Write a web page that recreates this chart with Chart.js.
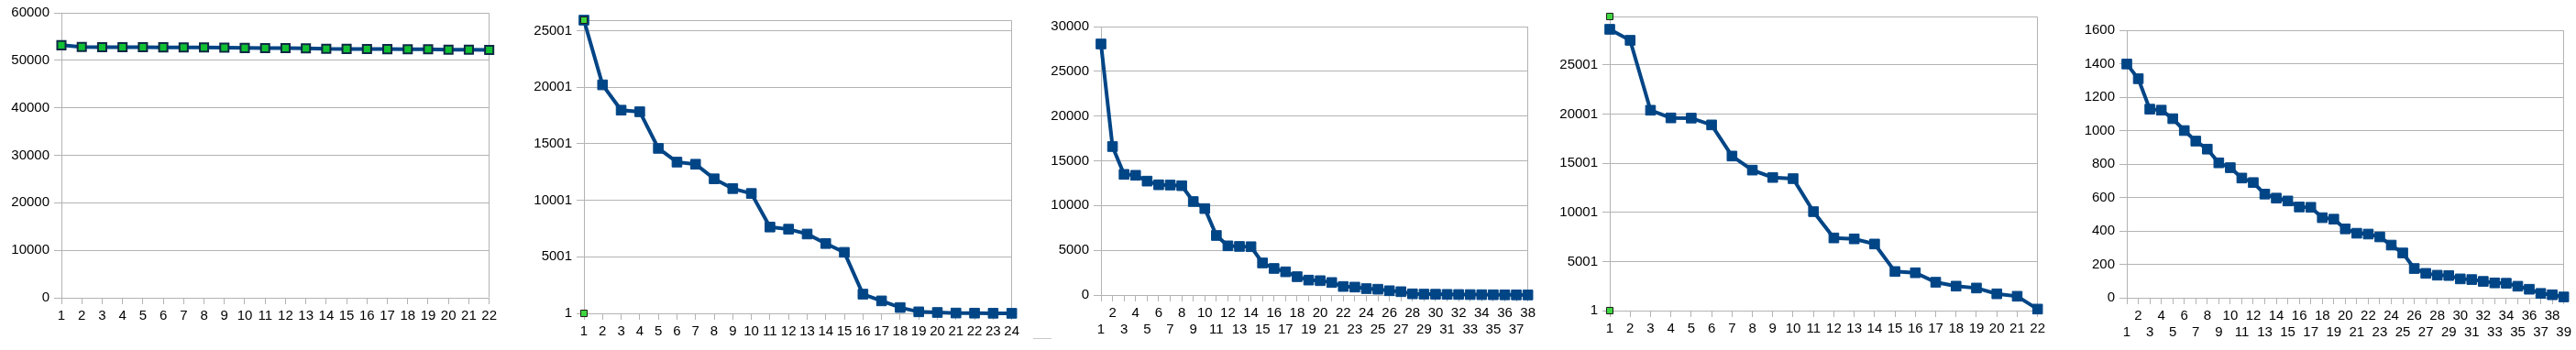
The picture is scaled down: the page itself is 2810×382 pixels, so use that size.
<!DOCTYPE html>
<html>
<head>
<meta charset="utf-8">
<script src="https://cdn.jsdelivr.net/npm/chart.js@4/dist/chart.umd.min.js"></script>
<style>
  html, body { margin: 0; padding: 0; background: #ffffff; }
  body { width: 2810px; height: 382px; position: relative; overflow: hidden; }
  canvas { position: absolute; top: 0; }
  .stray { position: absolute; left: 1127px; top: 369px; width: 20px; height: 1px; background: #c8c8c8; }
</style>
</head>
<body>
<canvas id="c1"></canvas>
<canvas id="c2"></canvas>
<canvas id="c3"></canvas>
<canvas id="c4"></canvas>
<canvas id="c5"></canvas>
<div class="stray"></div>
<script>
// ---------------- DATA ----------------
const xLabels1 = ['1','2','3','4','5','6','7','8','9','10','11','12','13','14','15','16','17','18','19','20','21','22'];
const c1Values = [53180, 52800, 52780, 52760, 52750, 52740, 52720, 52700, 52680, 52600, 52580, 52560, 52540, 52420, 52400, 52380, 52360, 52340, 52320, 52250, 52220, 52200];
const yTicks1 = [0, 10000, 20000, 30000, 40000, 50000, 60000];

const xLabels2 = ['1','2','3','4','5','6','7','8','9','10','11','12','13','14','15','16','17','18','19','20','21','22','23','24'];
const c2Values = [25945, 20220, 17980, 17840, 14600, 13385, 13195, 11905, 11040, 10610, 7640, 7450, 7020, 6180, 5400, 1700, 1105, 515, 135, 80, 30, 20, 10, 5];
const c2RangeMarks = [25945, 1];
const yTicks2 = [1, 5001, 10001, 15001, 20001, 25001];

const xLabels3 = ['1','2','3','4','5','6','7','8','9','10','11','12','13','14','15','16','17','18','19','20','21','22','23','24','25','26','27','28','29','30','31','32','33','34','35','36','37','38'];
const c3Values = [28055, 16590, 13480, 13380, 12730, 12320, 12290, 12220, 10445, 9660, 6655, 5495, 5430, 5400, 3585, 2970, 2595, 2050, 1670, 1605, 1400, 955, 885, 715, 650, 480, 375, 135, 100, 90, 70, 60, 50, 40, 30, 20, 15, 10];
const yTicks3 = [0, 5000, 10000, 15000, 20000, 25000, 30000];

const xLabels4 = ['1','2','3','4','5','6','7','8','9','10','11','12','13','14','15','16','17','18','19','20','21','22'];
const c4Values = [28640, 27520, 20400, 19620, 19600, 18905, 15735, 14305, 13555, 13435, 10075, 7400, 7305, 6780, 3980, 3855, 2890, 2490, 2300, 1710, 1460, 155];
const c4RangeMarks = [29945, 1];
const yTicks4 = [1, 5001, 10001, 15001, 20001, 25001];

const xLabels5 = ['1','2','3','4','5','6','7','8','9','10','11','12','13','14','15','16','17','18','19','20','21','22','23','24','25','26','27','28','29','30','31','32','33','34','35','36','37','38','39'];
const c5Values = [1398, 1310, 1128, 1122, 1071, 1000, 937, 889, 807, 778, 716, 689, 620, 596, 579, 543, 541, 479, 470, 412, 386, 381, 364, 315, 268, 175, 146, 135, 133, 113, 109, 98, 89, 87, 69, 51, 26, 18, 5];
const yTicks5 = [0, 200, 400, 600, 800, 1000, 1200, 1400, 1600];

// ---------------- LAYOUT / STYLE ----------------
const H = 382, YW = 70, PADR = 12;
const GRID = '#b3b3b3';
const BLUE = '#004586';
const FONT = { family: "'Liberation Sans', Arial, sans-serif", size: 15, lineHeight: 1.2 };

const frameBorder = {
  id: 'frameBorder',
  beforeDatasetsDraw(chart) {
    const a = chart.chartArea, ctx = chart.ctx;
    ctx.save();
    ctx.strokeStyle = GRID;
    ctx.lineWidth = 1;
    const l = Math.round(a.left) + 0.5, r = Math.round(a.right) - 0.5;
    const t = Math.round(a.top) + 0.5, b = Math.round(a.bottom) - 0.5;
    ctx.beginPath();
    ctx.moveTo(l, t); ctx.lineTo(r, t); ctx.lineTo(r, b);
    ctx.stroke();
    ctx.restore();
  }
};

function makeChart(id, geo, labels, values, yTicks, yMin, yMax, opts) {
  const cv = document.getElementById(id);
  const W = (geo.right - geo.left) + YW + PADR;
  cv.width = W; cv.height = H;
  cv.style.left = (geo.left - YW) + 'px';
  cv.style.width = W + 'px'; cv.style.height = H + 'px';

  const datasets = [];
  if (opts.rangeMarks) {
    datasets.push({
      data: opts.rangeMarks.map(v => ({ x: labels[0], y: v })),
      showLine: false,
      pointStyle: 'rect',
      pointRadius: 5,
      pointBackgroundColor: '#3fd63f',
      pointBorderColor: '#1a1a1a',
      pointBorderWidth: 1,
      clip: false,
      order: 0
    });
  }
  datasets.push({
    data: values,
    borderColor: BLUE,
    borderWidth: 4,
    tension: 0,
    pointStyle: 'rect',
    pointRadius: opts.green ? 6.4 : 7.5,
    pointBackgroundColor: opts.green ? '#11c033' : BLUE,
    pointBorderColor: opts.green ? '#0d2a45' : BLUE,
    pointBorderWidth: opts.green ? 2 : 1,
    clip: false,
    order: 1
  });

  new Chart(cv, {
    type: 'line',
    data: { labels: labels, datasets: datasets },
    plugins: [frameBorder],
    options: {
      responsive: false,
      animation: false,
      events: [],
      layout: { padding: { top: geo.top, right: PADR, left: 0, bottom: 0 } },
      plugins: { legend: { display: false }, tooltip: { enabled: false } },
      scales: {
        x: {
          type: 'category',
          offset: false,
          grid: { drawOnChartArea: false, drawTicks: true, tickLength: 7, color: GRID, lineWidth: 1 },
          border: { display: true, color: GRID, width: 1 },
          ticks: {
            autoSkip: false, maxRotation: 0, minRotation: 0, padding: 4,
            color: '#000000', font: FONT,
            callback: function (value, index) {
              const lab = labels[index];
              if (!opts.twoRows) return lab;
              return (index % 2 === 1) ? [lab] : ['', lab];
            }
          },
          afterFit: (s) => { s.height = H - geo.bottom; }
        },
        y: {
          type: 'linear',
          min: yMin, max: yMax,
          grid: { drawOnChartArea: true, drawTicks: true, tickLength: 8, color: GRID, lineWidth: 1 },
          border: { display: true, color: GRID, width: 1 },
          ticks: { padding: 5, color: '#000000', font: FONT, callback: (v) => String(v) },
          afterBuildTicks: (axis) => { axis.ticks = yTicks.map(v => ({ value: v })); },
          afterFit: (s) => { s.width = YW; }
        }
      }
    }
  });
}

makeChart('c1', { left: 67, top: 14, right: 534, bottom: 325 }, xLabels1, c1Values, yTicks1, 0, 60000, { green: true });
makeChart('c2', { left: 637, top: 22, right: 1104, bottom: 342 }, xLabels2, c2Values, yTicks2, 1, c2RangeMarks[0], { rangeMarks: c2RangeMarks });
makeChart('c3', { left: 1201, top: 29, right: 1667, bottom: 322 }, xLabels3, c3Values, yTicks3, 0, 30000, { twoRows: true });
makeChart('c4', { left: 1756, top: 18, right: 2223, bottom: 339 }, xLabels4, c4Values, yTicks4, 1, c4RangeMarks[0], { rangeMarks: c4RangeMarks });
makeChart('c5', { left: 2320, top: 33, right: 2797, bottom: 325 }, xLabels5, c5Values, yTicks5, 0, 1600, { twoRows: true });
</script>
</body>
</html>
